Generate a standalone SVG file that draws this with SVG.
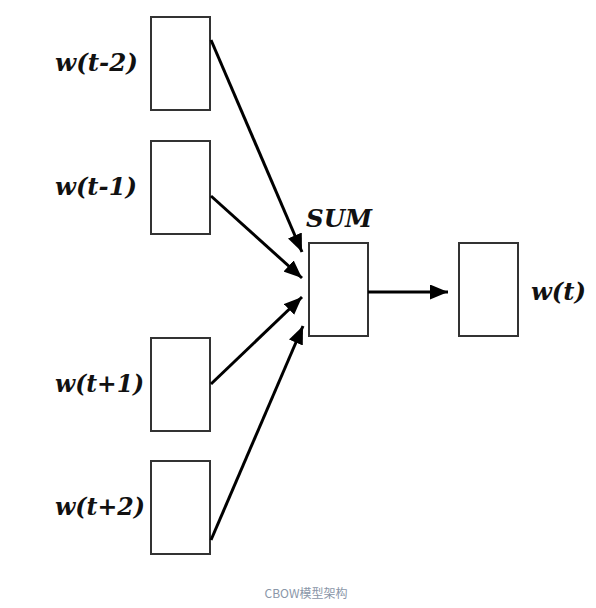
<svg xmlns="http://www.w3.org/2000/svg" width="596" height="608" viewBox="0 0 596 608">
<defs>
<marker id="ah" markerWidth="6" markerHeight="5" refX="6" refY="2.5" orient="auto" markerUnits="strokeWidth"><path d="M0,0 L6,2.5 L0,5 Z" fill="#000"/></marker>
</defs>
<style>
.box{fill:#fff;stroke:#333;stroke-width:2}
.lbl{font-family:"DejaVu Serif","Liberation Serif",serif;font-style:italic;font-size:24px;fill:#111;font-weight:bold}
.arr{stroke:#000;stroke-width:3;fill:none;marker-end:url(#ah)}
.cap{font-family:"Noto Sans CJK SC","Noto Sans",sans-serif;font-size:12px;fill:#8a96a8}
</style>
<rect width="596" height="608" fill="#fff"/>
<g id="in1"><rect class="box" x="151" y="17" width="59" height="93"/><text class="lbl" x="55" y="71" textLength="83" lengthAdjust="spacingAndGlyphs">w(t-2)</text></g>
<g id="in2"><rect class="box" x="151" y="141" width="59" height="93"/><text class="lbl" x="55" y="195" textLength="82" lengthAdjust="spacingAndGlyphs">w(t-1)</text></g>
<g id="in3"><rect class="box" x="151" y="338" width="59" height="93"/><text class="lbl" x="55" y="392" textLength="89" lengthAdjust="spacingAndGlyphs">w(t+1)</text></g>
<g id="in4"><rect class="box" x="151" y="461" width="59" height="93"/><text class="lbl" x="55" y="515" textLength="90" lengthAdjust="spacingAndGlyphs">w(t+2)</text></g>
<g id="sum"><rect class="box" x="309" y="243" width="59" height="93"/><text class="lbl" x="306" y="227" textLength="66" lengthAdjust="spacingAndGlyphs">SUM</text></g>
<g id="out"><rect class="box" x="459" y="243" width="59" height="93"/><text class="lbl" x="531" y="300" textLength="55" lengthAdjust="spacingAndGlyphs">w(t)</text></g>
<g id="connectors">
<line class="arr" x1="211" y1="40" x2="302" y2="252"/>
<line class="arr" x1="211" y1="196" x2="302" y2="278"/>
<line class="arr" x1="211" y1="384" x2="302" y2="297"/>
<line class="arr" x1="211" y1="540" x2="303" y2="326"/>
<line class="arr" x1="368" y1="292" x2="448" y2="292"/>
</g>
<text class="cap" x="306" y="598" text-anchor="middle">CBOW模型架构</text>
</svg>
